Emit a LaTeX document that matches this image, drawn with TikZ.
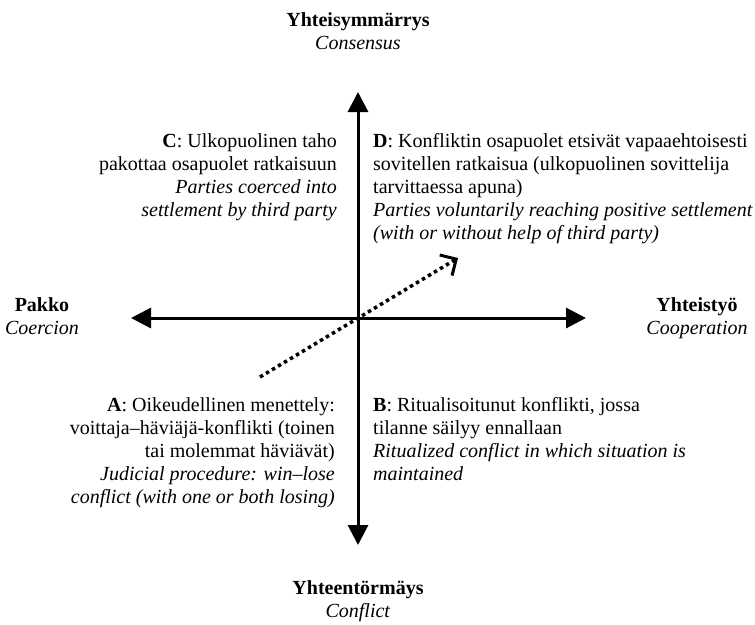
\documentclass[tikz,border=0pt]{standalone}
\usepackage{fontspec}
\setmainfont{Liberation Serif}
\usetikzlibrary{positioning, arrows.meta}
\tikzset{
    x=1pt, y=-1pt, % one unit is one pixel of the page, y runs downwards
    every node/.style={inner sep=0pt, font=\fontsize{20}{23}\selectfont},
    axisarrow/.style={line width=3pt, -{Triangle[length=20pt, width=20pt]}}, % the four solid arrows
    trend/.style={line width=3.5pt, dash pattern=on 3.5pt off 3.5pt, -{Straight Barb[length=12pt, width=24pt, line width=3pt]}}, % the dotted arrow
    pole/.style={align=center, anchor=north}, % the labels at the ends of the axes
}

\begin{document}
\begin{tikzpicture}
            \useasboundingbox (0,0) rectangle (755,624);
            \coordinate (o) at (358,318);
            \coordinate (n) at (358,92);
            \coordinate (s) at (358,545);
            \coordinate (w) at (131,318);
            \coordinate (e) at (586,318);
            \coordinate (lowleft) at (260,377);
            \coordinate (upright) at (458,258);
            \node[pole] (consensus) at (358,12) {\textbf{Yhteisymmärrys}\\\textit{Consensus}};
            \node[pole] (coercion) at (42,297) {\textbf{Pakko}\\\textit{Coercion}};
            \node[pole] (cooperation) at (697,297) {\textbf{Yhteistyö}\\\textit{Cooperation}};
            \node[pole] (conflict) at (358,580) {\textbf{Yhteentörmäys}\\\textit{Conflict}};
            \node[anchor=north east, align=right] (quadC) at (337,133) {\textbf{C}: Ulkopuolinen taho\\pakottaa osapuolet ratkaisuun\\\textit{Parties coerced into}\\\textit{settlement by third party}};
            \node[anchor=north west, align=left] (quadD) at (373,133) {\textbf{D}: Konfliktin osapuolet etsivät vapaaehtoisesti\\sovitellen ratkaisua (ulkopuolinen sovittelija\\tarvittaessa apuna)\\\textit{Parties voluntarily reaching positive settlement}\\\textit{(with or without help of third party)}};
            \node[anchor=north east, align=right] (quadA) at (335,397) {\textbf{A}: Oikeudellinen menettely:\\voittaja–häviäjä-konflikti (toinen\\tai molemmat häviävät)\\\textit{Judicial procedure: win–lose}\\\textit{conflict (with one or both losing)}};
            \node[anchor=north west, align=left] (quadB) at (373,397) {\textbf{B}: Ritualisoitunut konflikti, jossa\\tilanne säilyy ennallaan\\\textit{Ritualized conflict in which situation is}\\\textit{maintained}};
            \draw (o) edge[axisarrow] (n)
            (o) edge[axisarrow] (e)
            (o) edge[axisarrow] (s)
            (o) edge[axisarrow] (w);
            \draw[trend] (lowleft) -- (upright);
        \end{tikzpicture}
\end{document}
